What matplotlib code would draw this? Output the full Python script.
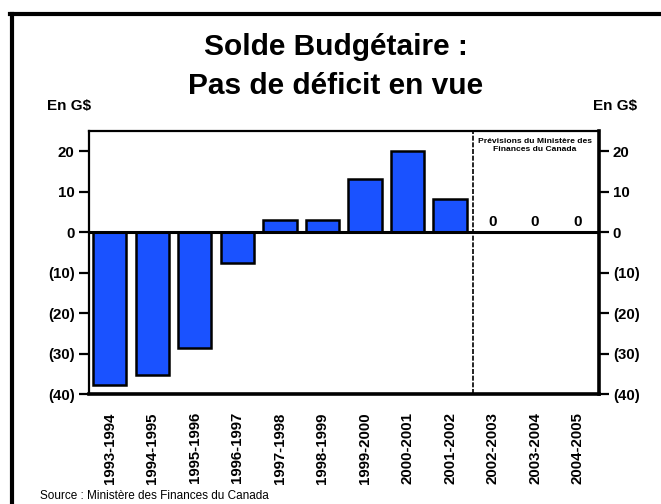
import matplotlib
matplotlib.use("Agg")
import matplotlib.pyplot as plt
from matplotlib.lines import Line2D

categories = ["1993-1994", "1994-1995", "1995-1996", "1996-1997", "1997-1998",
              "1998-1999", "1999-2000", "2000-2001", "2001-2002", "2002-2003",
              "2003-2004", "2004-2005"]
actual_values = [-37.8, -35.3, -28.6, -7.6, 3.0, 3.0, 13.2, 20.0, 8.3]
forecast_values = [0, 0, 0]
yticks = [-40, -30, -20, -10, 0, 10, 20]
ytick_labels = ["(40)", "(30)", "(20)", "(10)", "0", "10", "20"]

NARROW = ["Liberation Sans Narrow", "Liberation Sans", "DejaVu Sans"]
SANS = ["Liberation Sans", "DejaVu Sans"]

fig = plt.figure(figsize=(6.61, 5.04), dpi=100)
ax = fig.add_axes([0.134, 0.218, 0.772, 0.522])

x = list(range(len(categories)))
ax.bar(x[:len(actual_values)], actual_values, width=0.78, color="#1a52ff",
       edgecolor="black", linewidth=1.8, zorder=3)

ax.set_xlim(-0.5, len(categories) - 0.5)
ax.set_ylim(-40, 25)
ax.axhline(0, color="black", linewidth=2.2, zorder=4)
ax.axvline(8.53, color="black", linewidth=1.2, linestyle=(0, (3, 1)), zorder=4)

for i, v in enumerate(forecast_values):
    xi = len(actual_values) + i
    ax.text(xi, v + 2.5, f"{v}", ha="center", va="center", fontsize=11,
            fontweight="bold", family=NARROW)

ax.text(9.99, 21.4, "Prévisions du Ministère des\nFinances du Canada",
        ha="center", va="center", fontsize=6.1, fontweight="bold",
        family=SANS, linespacing=1.25)

ax.set_yticks(yticks)
ax.set_yticklabels(ytick_labels)
ax.set_xticks(x)
ax.set_xticklabels(categories, rotation=90)
ax.tick_params(axis="y", which="both", left=True, right=True, labelleft=True,
               labelright=True, direction="out", length=7, width=1.6, pad=3)
ax.tick_params(axis="x", length=0, pad=13)
for lab in ax.get_yticklabels() + ax.get_xticklabels():
    lab.set_fontweight("bold")
    lab.set_family(NARROW)
    lab.set_fontsize(10.8)

ax.spines["top"].set_linewidth(1.6)
ax.spines["left"].set_linewidth(1.6)
ax.spines["right"].set_linewidth(2.6)
ax.spines["bottom"].set_linewidth(2.6)

fig.text(0.508, 0.907, "Solde Budgétaire :", ha="center", va="center",
         fontsize=21.5, fontweight="bold", family=SANS)
fig.text(0.508, 0.829, "Pas de déficit en vue", ha="center", va="center",
         fontsize=21.5, fontweight="bold", family=SANS)
fig.text(0.104, 0.790, "En G$", ha="center", va="center", fontsize=11,
         fontweight="bold", family=NARROW)
fig.text(0.931, 0.790, "En G$", ha="center", va="center", fontsize=11,
         fontweight="bold", family=NARROW)
fig.text(0.061, 0.016, "Source : Ministère des Finances du Canada",
         ha="left", va="center", fontsize=8.5, family=NARROW)

# outer frame (top and left edges visible)
fig.add_artist(Line2D([10 / 661, 1.0], [1 - 14 / 504, 1 - 14 / 504],
                      transform=fig.transFigure, color="black", linewidth=3))
fig.add_artist(Line2D([12 / 661, 12 / 661], [0.0, 1 - 14 / 504],
                      transform=fig.transFigure, color="black", linewidth=3))

fig.savefig("out.png", dpi=100)
